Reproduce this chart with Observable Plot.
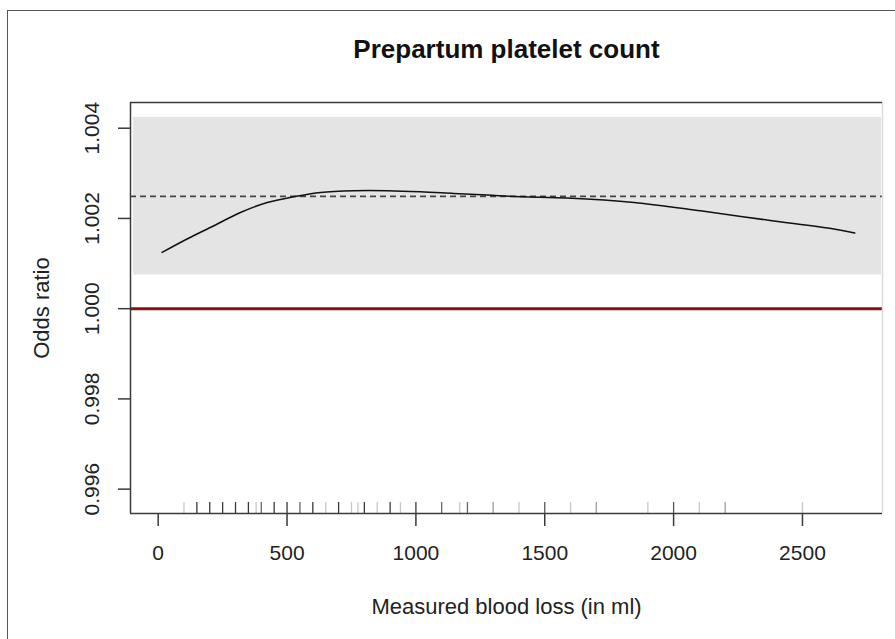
<!DOCTYPE html>
<html><head><meta charset="utf-8">
<script src="https://cdn.jsdelivr.net/npm/d3@7"></script>
<script src="https://cdn.jsdelivr.net/npm/@observablehq/plot@0.6"></script>
<style>
html,body{margin:0;padding:0;background:#fff;}
#wrap{position:relative;width:895px;height:639px;overflow:hidden;background:#fff;}
#wrap svg{position:absolute;left:0;top:0;}
#border{position:absolute;left:7px;top:10px;width:950px;height:700px;border-left:1.5px solid #555;border-top:1.5px solid #555;pointer-events:none;}
</style></head><body><div id="wrap"></div>
<script>
const title = "Prepartum platelet count";
const xLabel = "Measured blood loss (in ml)";
const yLabel = "Odds ratio";

// smooth odds-ratio curve
const bloodLoss = [15, 112, 216, 319, 423, 526, 630, 759, 889, 1018, 1147, 1277, 1406, 1587, 1846, 2104, 2363, 2622, 2703];
const oddsRatio = [1.001247, 1.001544, 1.001838, 1.002133, 1.002354, 1.002481, 1.002576, 1.002614, 1.002614, 1.002591, 1.002554, 1.002518, 1.002481, 1.002452, 1.002354, 1.002170, 1.001964, 1.001765, 1.001677];

// overall estimate and confidence band
const estimate = 1.00249;
const ciLower = 1.000746;
const ciUpper = 1.00424;
const reference = 1.000;

// rug of observed blood loss values (count of overlapping observations)
const rugValues = [100, 150, 200, 250, 300, 350, 380, 400, 450, 500, 550, 600, 650, 700, 750, 775, 800, 850, 900, 940, 1000, 1100, 1170, 1200, 1300, 1400, 1500, 1600, 1700, 1900, 2000, 2100, 2200, 2500];
const rugCounts = [1, 8, 8, 8, 8, 8, 1, 4, 8, 8, 4, 8, 1, 8, 1, 1, 8, 1, 8, 1, 8, 4, 1, 4, 2, 1, 5, 1, 2, 1, 5, 1, 2, 1];

const xTicks = [0, 500, 1000, 1500, 2000, 2500];
const yTicks = [0.996, 0.998, 1.000, 1.002, 1.004];
const xDomain = [-107.5, 2810.6];
const yDomain = [0.99546, 1.00457];

const curve = bloodLoss.map((x, i) => ({x, y: oddsRatio[i]}));
const rug = rugValues.map((x, i) => ({x, n: rugCounts[i]}));

const font = "'Liberation Sans', Arial, Helvetica, sans-serif";
const axisColor = "#3a3a3a";

const chart = Plot.plot({
  width: 895,
  height: 639,
  marginLeft: 130,
  marginRight: 13,
  marginTop: 102,
  marginBottom: 126,
  style: {fontFamily: font, fontSize: "21px", color: "#222", background: "transparent", overflow: "visible"},
  x: {domain: xDomain},
  y: {domain: yDomain},
  marks: [
    Plot.rect([{lo: ciLower, hi: ciUpper}], {y1: "lo", y2: "hi", fill: "#e4e4e4", insetLeft: 3, insetRight: 1}),
    Plot.ruleY([estimate], {stroke: "#444", strokeWidth: 1.6, strokeDasharray: "6,4"}),
    Plot.ruleY([reference], {stroke: "#8b1010", strokeWidth: 3}),
    Plot.line(curve, {x: "x", y: "y", curve: "catmull-rom", stroke: "#111", strokeWidth: 1.5}),
    Plot.ruleX(rug, {x: "x", insetTop: 400, stroke: "#222", strokeWidth: 1.3, strokeOpacity: d => 1 - Math.pow(0.75, d.n)}),
    // box
    Plot.ruleX([xDomain[1]], {stroke: "#dcdcdc", strokeWidth: 1.5}),
    Plot.ruleY([yDomain[1]], {stroke: axisColor, strokeWidth: 1.5}),
    Plot.ruleY([yDomain[0]], {stroke: axisColor, strokeWidth: 1.5}),
    Plot.ruleX([xDomain[0]], {stroke: axisColor, strokeWidth: 1.5}),
    Plot.axisX({ticks: xTicks, tickSize: 13, tickPadding: 19, stroke: axisColor, strokeWidth: 1.5, fill: "#222", fontSize: 21, label: null, tickFormat: d3.format("d")}),
    Plot.axisY({ticks: yTicks, tickSize: 12, tickPadding: 20, tickRotate: -90, stroke: axisColor, strokeWidth: 1.5, fill: "#222", fontSize: 21, label: null, tickFormat: d3.format(".3f")}),
    Plot.text([title], {frameAnchor: "top", dy: -45, lineAnchor: "bottom", fontWeight: "bold", fontSize: 26, fill: "#111"}),
    Plot.text([xLabel], {frameAnchor: "bottom", dy: 100, lineAnchor: "bottom", fontSize: 22, fill: "#222"}),
    Plot.text([yLabel], {frameAnchor: "left", dx: -82, rotate: -90, lineAnchor: "bottom", textAnchor: "middle", fontSize: 22, fill: "#222"})
  ]
});
const wrap = document.getElementById("wrap");
wrap.appendChild(chart);
const b = document.createElement("div");
b.id = "border";
wrap.appendChild(b);
</script>
</body></html>
